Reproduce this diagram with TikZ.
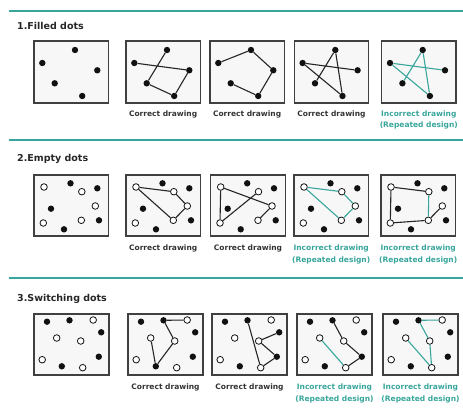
\documentclass[tikz,border=0pt]{standalone}
\usepackage{fontspec}
\setmainfont{DejaVu Sans}
\definecolor{tealline}{RGB}{56,166,156}
\definecolor{panelgray}{RGB}{247,247,247}
\definecolor{dotblack}{RGB}{17,17,17}
\usetikzlibrary{positioning}

\begin{document}
\begin{tikzpicture}[x=1pt,y=-1pt,
  sepline/.style={tealline, line width=2pt},
  panel/.style={draw=black!75, line width=1.2pt, fill=panelgray},
  fdot/.style={circle, fill=dotblack, inner sep=0pt, minimum size=6.4pt},
  edot/.style={circle, draw=dotblack, fill=white, line width=0.8pt, inner sep=0pt, minimum size=6.6pt},
  link/.style={black!85, line width=1.1pt},
  wrong/.style={tealline, line width=1.1pt},
  title/.style={font=\fontsize{9.5}{11}\selectfont\bfseries, text=black!85, anchor=base west, inner sep=0pt},
  caption/.style={font=\fontsize{7.5}{11.4}\selectfont\bfseries, text=black!80, align=center, anchor=north, inner sep=0pt},
  badcaption/.style={caption, text=tealline}]
  \useasboundingbox (0,0) rectangle (463,412);

  % Separators
  \draw[sepline] (9,11) -- (463,11);
  \draw[sepline] (9,139.5) -- (463,139.5);
  \draw[sepline] (9,278) -- (463,278);

  % Row 1 - filled dots
  \node[title] (title1) at (17,30) {1.Filled dots};
  \foreach \n/\px in {1/34,2/126,3/210,4/294.3,5/381.7} {
    \draw[panel] (\px,41) rectangle ++(74.3,62);
    \foreach \d/\dx/\dy in {t/41/9,l/8.3/22,r/63.3/29.3,a/20.7/42.3,b/48.2/55}
      \node[fdot] (fd\n-\d) at (\px+\dx,41+\dy) {};
  }
  \draw[link] (fd2-l) -- (fd2-r) -- (fd2-b) -- (fd2-a) -- (fd2-t);
  \draw[link] (fd3-l) -- (fd3-t) -- (fd3-r) -- (fd3-b) -- (fd3-a);
  \draw[link] (fd4-a) -- (fd4-t) -- (fd4-b) -- (fd4-l) -- (fd4-r);
  \draw[wrong] (fd5-a) -- (fd5-t) -- (fd5-b) -- (fd5-l) -- (fd5-r);
  \foreach \n/\cx in {2/163.1,3/247.1,4/331.4}
    \node[caption] (cap1\n) at (\cx,110.6) {Correct drawing};
  \node[badcaption] (cap15) at (418.8,110.6) {Incorrect drawing\\(Repeated design)};

  % Row 2 - empty dots
  \node[title] (title2) at (17,161.5) {2.Empty dots};
  \foreach \n/\px in {1/34,2/126,3/210.7,4/294,5/381} {
    \draw[panel] (\px,175) rectangle ++(74.5,61);
    \foreach \d/\s/\dx/\dy in {e1/edot/10/12,f1/fdot/36.5/8.3,e2/edot/47.8/16.7,f2/fdot/63.3/13.3,
        f3/fdot/17/33.7,e3/edot/61.3/31,e4/edot/9.3/48,e5/edot/47.3/45.3,f4/fdot/65/45.3,f5/fdot/30/54.3}
      \node[\s] (ed\n-\d) at (\px+\dx,175+\dy) {};
  }
  \draw[link] (ed2-e1) -- (ed2-e2) -- (ed2-e3) -- (ed2-e5) -- (ed2-e1);
  \draw[link] (ed3-e2) -- (ed3-e4) -- (ed3-e1) -- (ed3-e3) -- (ed3-e5);
  \draw[wrong] (ed4-e1) -- (ed4-e2) -- (ed4-e3) -- (ed4-e5) -- (ed4-e1);
  \draw[link] (ed5-e2) -- (ed5-e1) -- (ed5-e4) -- (ed5-e5) -- (ed5-e3);
  \draw[wrong] (ed5-e2) -- (ed5-e5);
  \foreach \n/\cx in {2/163.2,3/248}
    \node[caption] (cap2\n) at (\cx,245) {Correct drawing};
  \foreach \n/\cx in {4/331.2,5/418.2}
    \node[badcaption] (cap2\n) at (\cx,245) {Incorrect drawing\\(Repeated design)};

  % Row 3 - switching dots
  \node[title] (title3) at (17,301.5) {3.Switching dots};
  \foreach \n/\px in {1/34,2/128,3/212,4/297,5/383} {
    \draw[panel] (\px,314) rectangle ++(75,61);
    \foreach \d/\s/\dx/\dy in {a/fdot/13/7.7,b/fdot/35.5/6.3,c/edot/59.2/6,d/fdot/67.2/18.3,g/edot/22.7/24,
        h/edot/46.7/27,i/edot/8.2/45.7,j/fdot/27.8/52.3,k/edot/48.7/53.7,m/fdot/64.8/42.7}
      \node[\s] (sw\n-\d) at (\px+\dx,314+\dy) {};
  }
  \draw[link] (sw2-c) -- (sw2-b) -- (sw2-h) -- (sw2-j) -- (sw2-g);
  \draw[link] (sw3-b) -- (sw3-k) -- (sw3-m) -- (sw3-h) -- (sw3-d);
  \draw[link] (sw4-b) -- (sw4-h) -- (sw4-m) -- (sw4-k);
  \draw[wrong] (sw4-g) -- (sw4-k);
  \draw[wrong] (sw5-c) -- (sw5-b) -- (sw5-h) -- (sw5-k) -- (sw5-g);
  \foreach \n/\cx in {2/165.5,3/249.5}
    \node[caption] (cap3\n) at (\cx,384) {Correct drawing};
  \foreach \n/\cx in {4/334.5,5/420.5}
    \node[badcaption] (cap3\n) at (\cx,384) {Incorrect drawing\\(Repeated design)};
\end{tikzpicture}
\end{document}
